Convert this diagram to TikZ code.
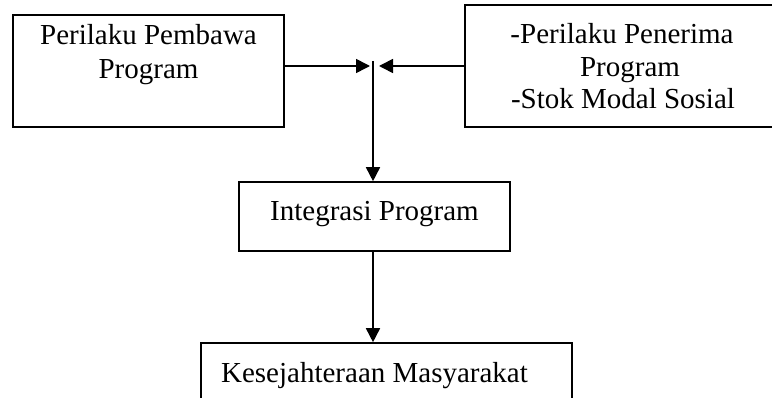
\documentclass[tikz,border=0pt]{standalone}
\usepackage{fontspec}
\setmainfont{Liberation Serif}
\usetikzlibrary{arrows.meta}
\tikzset{
  box/.style={draw, line width=1.6pt, rectangle, inner sep=0pt},
  txt/.style={anchor=base, inner sep=0pt, font=\fontsize{29}{33}\selectfont},
  arr/.style={line width=1.6pt, -{Triangle[length=14pt,width=14pt]}}
}
\begin{document}
\begin{tikzpicture}[x=1pt,y=-1pt]
\useasboundingbox (0,0) rectangle (772,398);
\clip (0,0) rectangle (772,398);
\node[box, minimum width=271pt, minimum height=112pt] (b1) at (148.5,71) {};
\node[box, minimum width=318pt, minimum height=122pt] (b2) at (624,66) {};
\node[box, minimum width=271pt, minimum height=69pt] (int) at (374.5,216.5) {};
\node[box, minimum width=371pt, minimum height=120pt] (kes) at (386.5,403) {};
\node[txt] (t1a) at (148.5,45) {Perilaku Pembawa};
\node[txt] (t1b) at (148.5,79) {Program};
\node[txt] (t2a) at (622,44) {-Perilaku Penerima};
\node[txt] (t2b) at (630,77) {Program};
\node[txt] (t2c) at (623,109) {-Stok Modal Sosial};
\node[txt] (t3) at (374.5,221) {Integrasi Program};
\node[txt] (t4) at (374.5,382) {Kesejahteraan Masyarakat};
\coordinate (jl) at (370,66);
\coordinate (jr) at (379,66);
\coordinate (j) at (373,61);
\draw[arr] (b1.east |- jl) -- (jl);
\draw[arr] (b2.west |- jr) -- (jr);
\draw[arr] (j) -- (j |- int.north);
\draw[arr] (j |- int.south) -- (j |- kes.north);
\end{tikzpicture}
\end{document}
